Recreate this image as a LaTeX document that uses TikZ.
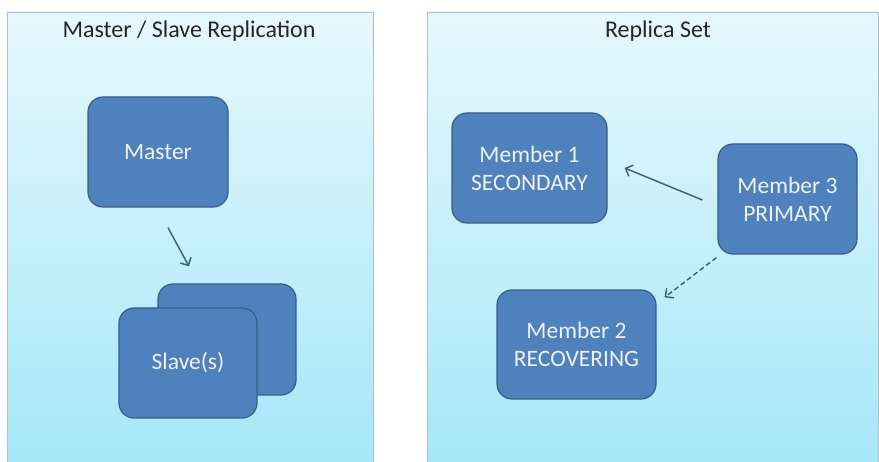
\documentclass[tikz,border=0pt]{standalone}
\usepackage{fontspec}
\setmainfont{Carlito}
\usetikzlibrary{arrows.meta}
\definecolor{boxfill}{HTML}{4F81BD}
\definecolor{boxline}{HTML}{385D8A}
\definecolor{bgtop}{HTML}{E6F8FD}
\definecolor{bgbot}{HTML}{A6E7F8}
\definecolor{panelline}{HTML}{A9C4CF}
\definecolor{arrowc}{HTML}{3F6478}
\definecolor{boxtext}{HTML}{EEF3FA}
\tikzset{
  memberbox/.style={draw=boxline, line width=1.2pt, fill=boxfill, rounded corners=15pt,
    text=boxtext, font=\fontsize{23.5}{28}\selectfont, align=center, inner sep=0pt},
  title/.style={font=\fontsize{24}{28}\selectfont, text=black!85},
  link/.style={draw=arrowc, line width=1.5pt, -{Straight Barb[length=6pt,width=12pt,line width=1.5pt]}},
}
\begin{document}
\begin{tikzpicture}[x=1pt,y=-1pt]
\useasboundingbox (0,0) rectangle (879,462);
\fill[white] (0,0) rectangle (879,462);
% panels
\shade[top color=bgtop, bottom color=bgbot] (7,12) rectangle (373,462);
\draw[panelline, line width=0.8pt] (7,462) -- (7,12) -- (373,12) -- (373,462);
\shade[top color=bgtop, bottom color=bgbot] (427,12) rectangle (878,462);
\draw[panelline, line width=0.8pt] (427,462) -- (427,12) -- (878,12) -- (878,462);
% titles
\node[title] (t1) at (189,31) {Master / Slave Replication};
\node[title] (t2) at (658,31) {Replica Set};
% left panel
\node[memberbox, minimum width=140pt, minimum height=110pt] (master) at (158,152) {Master};
\node[memberbox, minimum width=138pt, minimum height=111pt] (slaveback) at (227,339.5) {};
\node[memberbox, minimum width=138pt, minimum height=110pt] (slave) at (188,363) {Slave(s)};
\draw[link] ([xshift=10pt,yshift=-20pt]master.south) -- ([xshift=-38pt,yshift=17pt]slaveback.north);
% right panel
\node[memberbox, minimum width=155pt, minimum height=110pt] (m1) at (529.5,168) {Member 1\\SECONDARY};
\node[memberbox, minimum width=139pt, minimum height=110pt] (m3) at (787.5,199) {Member 3\\PRIMARY};
\node[memberbox, minimum width=159pt, minimum height=109pt] (m2) at (576.5,344.5) {Member 2\\RECOVERING};
\draw[link] ([xshift=-15pt,yshift=-1pt]m3.west) -- ([xshift=17pt]m1.east);
\draw[link, dash pattern=on 5pt off 3pt] ([xshift=-1pt,yshift=-3pt]m3.south west) -- ([xshift=8pt,yshift=-8pt]m2.north east);
\end{tikzpicture}
\end{document}
